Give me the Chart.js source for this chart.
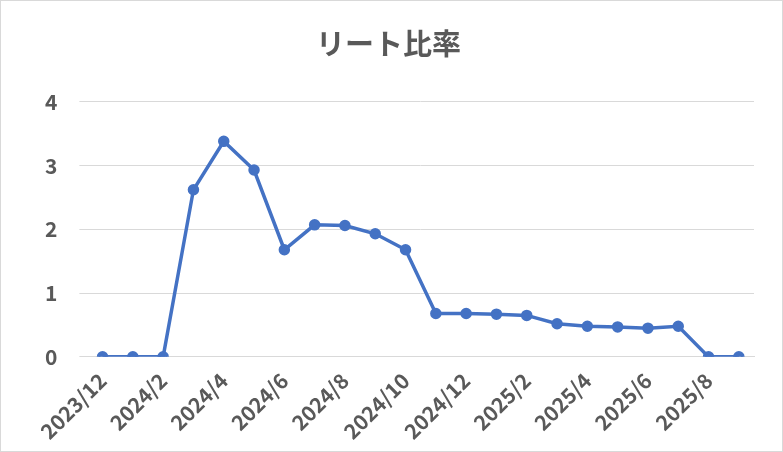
<!DOCTYPE html>
<html>
<head>
<meta charset="utf-8">
<script src="https://cdn.jsdelivr.net/npm/chart.js@4"></script>
<style>
  body { margin: 0; background: #fff; }
  #wrap { width: 781px; height: 450px; border: 1px solid #d9d9d9; }
</style>
</head>
<body>
<div id="wrap"><canvas id="chart" width="781" height="450"></canvas></div>
<script>
// --- DATA ---
const months = ['2023/12', '2024/1', '2024/2', '2024/3', '2024/4', '2024/5', '2024/6', '2024/7',
  '2024/8', '2024/9', '2024/10', '2024/11', '2024/12', '2025/1', '2025/2', '2025/3',
  '2025/4', '2025/5', '2025/6', '2025/7', '2025/8', '2025/9'];
const reitRatio = [0, 0, 0, 2.62, 3.38, 2.93, 1.68, 2.07, 2.06, 1.93, 1.68, 0.68,
  0.68, 0.67, 0.65, 0.52, 0.48, 0.47, 0.45, 0.48, 0, 0];
const yTicks = [0, 1, 2, 3, 4];

const grey = '#595959';
const font = { family: "'Noto Sans CJK JP', Roboto, sans-serif", weight: 'bold' };

new Chart(document.getElementById('chart'), {
  type: 'line',
  data: {
    labels: months,
    datasets: [{
      data: reitRatio,
      borderColor: '#4472c4',
      backgroundColor: '#4472c4',
      borderWidth: 3.5,
      pointRadius: 4,
      tension: 0
    }]
  },
  options: {
    responsive: false,
    animation: false,
    layout: { padding: { left: 22, right: 28, top: 18, bottom: 4 } },
    plugins: {
      legend: { display: false },
      title: {
        display: true,
        text: 'リート比率',
        color: grey,
        font: { ...font, size: 29 },
        padding: { top: 8, bottom: 40 }
      }
    },
    scales: {
      x: {
        offset: true,
        grid: { display: false },
        border: { color: '#d9d9d9' },
        ticks: {
          autoSkip: false,
          maxRotation: 45,
          minRotation: 45,
          color: grey,
          font: { ...font, size: 21 },
          callback: (v, i) => i % 2 === 0 ? months[i] : ''
        }
      },
      y: {
        min: 0,
        max: 4,
        afterBuildTicks: axis => { axis.ticks = yTicks.map(v => ({ value: v })); },
        grid: { color: '#d9d9d9' },
        border: { display: false },
        ticks: { color: grey, font: { ...font, size: 21 }, padding: 22 }
      }
    }
  }
});
</script>
</body>
</html>
